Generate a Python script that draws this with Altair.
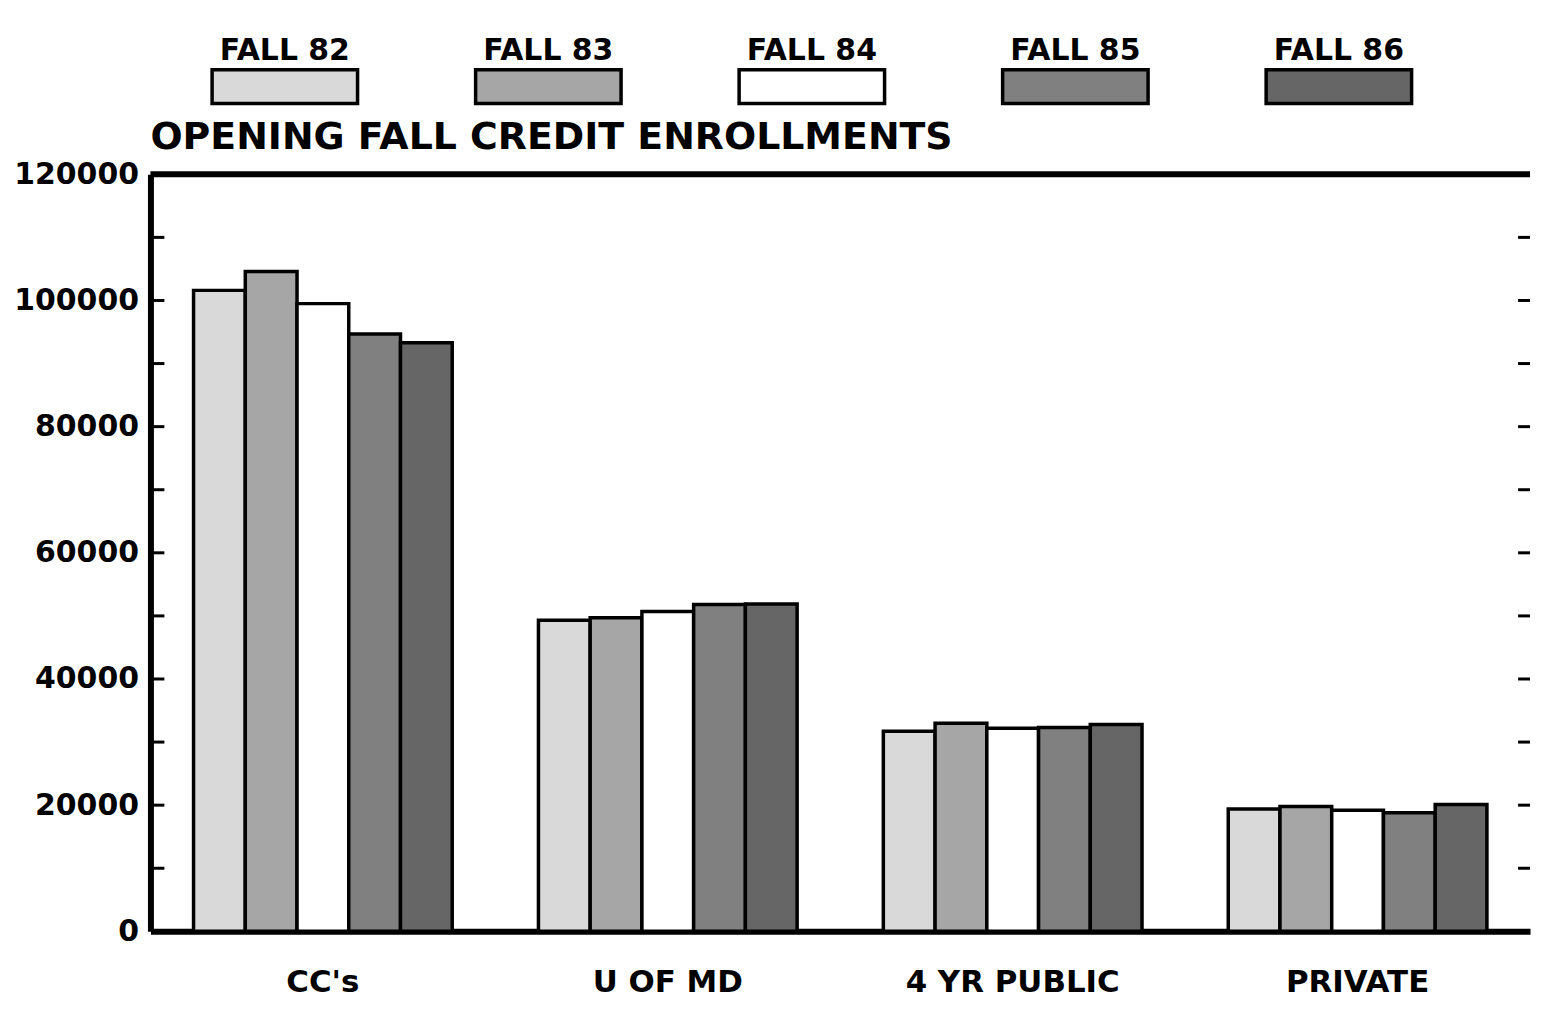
import altair as alt
import pandas as pd

categories = ["CC's", "U OF MD", "4 YR PUBLIC", "PRIVATE"]
series = ["FALL 82", "FALL 83", "FALL 84", "FALL 85", "FALL 86"]

fall82 = [101600, 49300, 31700, 19400]
fall83 = [104600, 49700, 33000, 19800]
fall84 = [99500, 50700, 32200, 19200]
fall85 = [94700, 51800, 32300, 18800]
fall86 = [93300, 51900, 32800, 20100]

y_labels = [0, 20000, 40000, 60000, 80000, 100000, 120000]
minor_ticks = [10000, 20000, 30000, 40000, 50000, 60000, 70000, 80000, 90000, 100000, 110000]

fills = ["#d9d9d9", "#a6a6a6", "#ffffff", "#808080", "#666666"]

FONT = "DejaVu Sans"

rows = []
for s, vals in zip(series, [fall82, fall83, fall84, fall85, fall86]):
    for c, v in zip(categories, vals):
        rows.append({"category": c, "series": s, "value": v})
df = pd.DataFrame(rows)
ticks_df = pd.DataFrame({"t": minor_ticks})
legend_df = pd.DataFrame({"series": series})

W, H = 1385, 760
fill_scale = alt.Scale(domain=series, range=fills)

bars = alt.Chart(df).mark_bar(stroke="black", strokeWidth=3.5).encode(
    x=alt.X("category:N", sort=categories,
            scale=alt.Scale(paddingInner=0.25, paddingOuter=0.125),
            axis=alt.Axis(title=None, labelAngle=0, labelFont=FONT, labelFontSize=31,
                          labelFontWeight="bold", labelColor="black", labelPadding=36,
                          labelLimit=500, ticks=False, domainColor="black", domainWidth=6)),
    xOffset=alt.XOffset("series:N", sort=series, scale=alt.Scale(paddingInner=0, paddingOuter=0)),
    y=alt.Y("value:Q", scale=alt.Scale(domain=[0, 120000], nice=False),
            axis=alt.Axis(title=None, values=y_labels, format="d", labelFont=FONT,
                          labelFontSize=30, labelFontWeight="bold", labelColor="black",
                          labelPadding=12, ticks=False, grid=False,
                          domainColor="black", domainWidth=6)),
    fill=alt.Fill("series:N", scale=fill_scale, legend=None),
)

left_ticks = alt.Chart(ticks_df).mark_rule(color="black", strokeWidth=3).encode(
    y="t:Q", x=alt.value(0), x2=alt.value(14))
right_ticks = alt.Chart(ticks_df).mark_rule(color="black", strokeWidth=3).encode(
    y="t:Q", x=alt.value(W - 12), x2=alt.value(W))
top_border = alt.Chart(pd.DataFrame({"t": [120000]})).mark_rule(color="black", strokeWidth=6).encode(
    y="t:Q")

main = alt.layer(bars, left_ticks, right_ticks, top_border).properties(
    width=W, height=H,
    title=alt.Title("OPENING FALL CREDIT ENROLLMENTS", anchor="start", frame="group", font=FONT,
                    fontSize=38, fontWeight="bold", color="black", offset=2),
)

leg_x = alt.X("series:N", sort=series, axis=None,
              scale=alt.Scale(domain=series, paddingInner=0.448, paddingOuter=0.234))
legend_boxes = alt.Chart(legend_df).mark_bar(stroke="black", strokeWidth=3.5).encode(
    x=leg_x, y=alt.value(55), y2=alt.value(89),
    fill=alt.Fill("series:N", scale=fill_scale, legend=None))
legend_text = alt.Chart(legend_df).mark_text(
    font=FONT, fontSize=30, fontWeight="bold", color="black", baseline="alphabetic", align="center"
).encode(x=leg_x, y=alt.value(45), text="series:N")
legend = alt.layer(legend_boxes, legend_text).properties(width=1328, height=92)

chart = alt.vconcat(legend, main, spacing=13).configure(
    background="white",
    view=alt.ViewConfig(strokeWidth=0, stroke="transparent"),
)

chart.save("out.html", embed_options={"renderer": "svg", "actions": False})
